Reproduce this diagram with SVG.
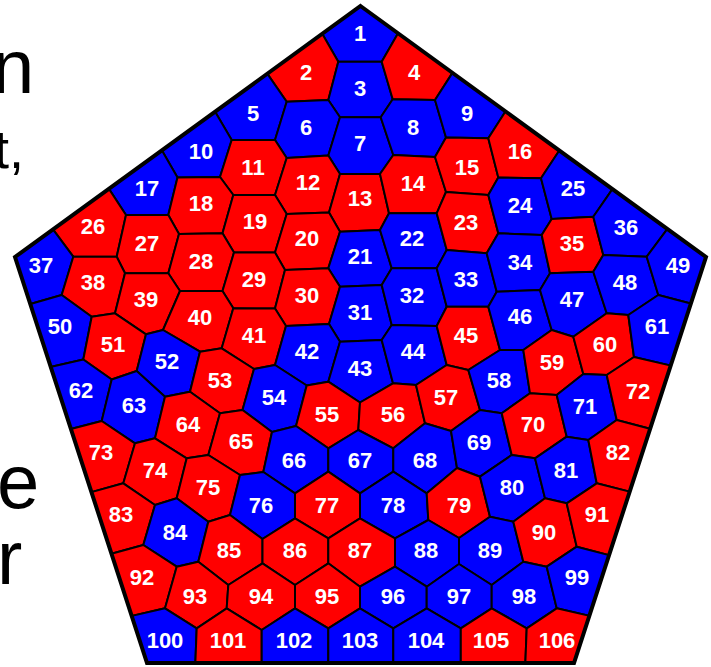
<svg xmlns="http://www.w3.org/2000/svg" width="711" height="667" viewBox="0 0 711 667">
<defs>
<style>
.r{fill:#ff0000}
.b{fill:#0000ff}
polygon.cell{stroke:#000;stroke-width:2;stroke-linejoin:round}
text.l{font-family:"Liberation Sans",Arial,Helvetica,sans-serif;font-weight:bold;font-size:22px;fill:#fff;text-anchor:middle}
text.big{font-family:"Liberation Sans",Arial,Helvetica,sans-serif;font-size:76px;fill:#000}
</style>
<clipPath id="pent"><polygon points="360.5,6 706,257 574,663 147,663 15,257"/></clipPath>
</defs>
<rect width="711" height="667" fill="#fff"/>
<g id="side-text">
<text class="big" x="-8" y="93">n</text>
<text class="big" x="-6" y="168" style="font-size:54px">t,</text>
<text class="big" x="-3" y="508">e</text>
<text class="big" x="-3" y="584">r</text>
</g>
<polygon points="360.5,6 706,257 574,663 147,663 15,257" fill="#000"/>
<g id="cells" clip-path="url(#pent)">
<g id="c1"><polygon class="cell b" points="319.2,28.4 360.5,-6 400.8,28.4 381.7,61.7 338.3,61.7"/><text class="l" x="360" y="41">1</text></g>
<g id="c2"><polygon class="cell r" points="319.2,28.4 338.3,61.7 328.3,100 286.7,101.7 264.8,70.1"/><text class="l" x="306" y="80">2</text></g>
<g id="c3"><polygon class="cell b" points="338.3,61.7 381.7,61.7 392.7,99.3 380.7,117.3 340,117.3 328.3,100"/><text class="l" x="360" y="96">3</text></g>
<g id="c4"><polygon class="cell r" points="400.8,28.4 455.5,68.1 435,100 392.7,99.3 381.7,61.7"/><text class="l" x="414" y="80">4</text></g>
<g id="c5"><polygon class="cell b" points="264.8,70.1 286.7,101.7 275,140 231.7,140 213.2,108.4"/><text class="l" x="253" y="121">5</text></g>
<g id="c6"><polygon class="cell b" points="286.7,101.7 328.3,100 340,117.3 328.3,155.5 286.7,158 275,140"/><text class="l" x="306" y="135">6</text></g>
<g id="c7"><polygon class="cell b" points="340,117.3 380.7,117.3 393.3,155 380,174 340,174 328.3,155.5"/><text class="l" x="360" y="151">7</text></g>
<g id="c8"><polygon class="cell b" points="392.7,99.3 435,100 446,137.5 435,157 393.3,155 380.7,117.3"/><text class="l" x="413" y="135">8</text></g>
<g id="c9"><polygon class="cell b" points="455.5,68.1 508.5,106.8 488.3,138.3 446,137.5 435,100"/><text class="l" x="467" y="121">9</text></g>
<g id="c10"><polygon class="cell b" points="213.2,108.4 231.7,140 220,177 177.5,177.5 159.8,146.8"/><text class="l" x="201" y="159">10</text></g>
<g id="c11"><polygon class="cell r" points="231.7,140 275,140 286.7,158 275,195 233.3,195 220,177"/><text class="l" x="253" y="175">11</text></g>
<g id="c12"><polygon class="cell r" points="286.7,158 328.3,155.5 340,174 329,212.5 286.7,214 275,195"/><text class="l" x="308" y="190">12</text></g>
<g id="c13"><polygon class="cell r" points="340,174 380,174 389,213.3 380,230 340,231.7 329,212.5"/><text class="l" x="360" y="206">13</text></g>
<g id="c14"><polygon class="cell r" points="393.3,155 435,157 446,192 436.7,213.3 389,213.3 380,174"/><text class="l" x="413" y="191">14</text></g>
<g id="c15"><polygon class="cell r" points="446,137.5 488.3,138.3 498.3,177.5 488.3,195 446,192 435,157"/><text class="l" x="467" y="175">15</text></g>
<g id="c16"><polygon class="cell r" points="508.5,106.8 561.8,146.8 541,178.3 498.3,177.5 488.3,138.3"/><text class="l" x="520" y="159">16</text></g>
<g id="c17"><polygon class="cell b" points="159.8,146.8 177.5,177.5 168.3,215 126,215 106.5,185.1"/><text class="l" x="147" y="196">17</text></g>
<g id="c18"><polygon class="cell r" points="177.5,177.5 220,177 233.3,195 222.5,233.3 179,234 168.3,215"/><text class="l" x="201" y="211">18</text></g>
<g id="c19"><polygon class="cell r" points="233.3,195 275,195 286.7,214 275,252.5 234,252.5 222.5,233.3"/><text class="l" x="255" y="229">19</text></g>
<g id="c20"><polygon class="cell r" points="286.7,214 329,212.5 340,231.7 328.3,268.3 285,270 275,252.5"/><text class="l" x="307" y="246">20</text></g>
<g id="c21"><polygon class="cell b" points="340,231.7 380,230 391.7,268.3 381.7,285 340,286.7 328.3,268.3"/><text class="l" x="360" y="264">21</text></g>
<g id="c22"><polygon class="cell b" points="389,213.3 436.7,213.3 446.7,250 436.7,268.3 391.7,268.3 380,230"/><text class="l" x="412" y="246">22</text></g>
<g id="c23"><polygon class="cell r" points="446,192 488.3,195 498.3,233.3 486.7,253.3 446.7,250 436.7,213.3"/><text class="l" x="466" y="230">23</text></g>
<g id="c24"><polygon class="cell b" points="498.3,177.5 541,178.3 551.7,219 541.7,235 498.3,233.3 488.3,195"/><text class="l" x="520" y="213">24</text></g>
<g id="c25"><polygon class="cell b" points="561.8,146.8 615.2,185.1 593.3,216.7 551.7,219 541,178.3"/><text class="l" x="573" y="196">25</text></g>
<g id="c26"><polygon class="cell r" points="106.5,185.1 126,215 116.7,256.7 73.3,256.7 49.8,225.1"/><text class="l" x="93" y="234">26</text></g>
<g id="c27"><polygon class="cell r" points="126,215 168.3,215 179,234 168.3,273.3 125,273.3 116.7,256.7"/><text class="l" x="147" y="251">27</text></g>
<g id="c28"><polygon class="cell r" points="179,234 222.5,233.3 234,252.5 222.5,291 180,291 168.3,273.3"/><text class="l" x="201" y="269">28</text></g>
<g id="c29"><polygon class="cell r" points="234,252.5 275,252.5 285,270 275,308.5 233.3,308.3 222.5,291"/><text class="l" x="254" y="287">29</text></g>
<g id="c30"><polygon class="cell r" points="285,270 328.3,268.3 340,286.7 329,324 286,326 275,308.5"/><text class="l" x="307" y="303">30</text></g>
<g id="c31"><polygon class="cell b" points="340,286.7 381.7,285 391.7,325 381.7,340 340,341.7 329,324"/><text class="l" x="360" y="320">31</text></g>
<g id="c32"><polygon class="cell b" points="391.7,268.3 436.7,268.3 446.7,306.7 436.7,326 391.7,325 381.7,285"/><text class="l" x="412" y="303">32</text></g>
<g id="c33"><polygon class="cell b" points="446.7,250 486.7,253.3 496.7,291.7 488.3,306.7 446.7,306.7 436.7,268.3"/><text class="l" x="466" y="287">33</text></g>
<g id="c34"><polygon class="cell b" points="498.3,233.3 541.7,235 550,273.3 540,290 496.7,291.7 486.7,253.3"/><text class="l" x="520" y="270">34</text></g>
<g id="c35"><polygon class="cell r" points="551.7,219 593.3,216.7 603.3,255 593.3,271.7 550,273.3 541.7,235"/><text class="l" x="572" y="251">35</text></g>
<g id="c36"><polygon class="cell b" points="615.2,185.1 670.2,225.1 646.7,256.7 603.3,255 593.3,216.7"/><text class="l" x="626" y="235">36</text></g>
<g id="c37"><polygon class="cell b" points="49.8,225.1 73.3,256.7 61.7,295 26,305.2 0,254"/><text class="l" x="41" y="273">37</text></g>
<g id="c38"><polygon class="cell r" points="73.3,256.7 116.7,256.7 125,273.3 115,313.3 91.7,316.7 61.7,295"/><text class="l" x="93" y="290">38</text></g>
<g id="c39"><polygon class="cell r" points="125,273.3 168.3,273.3 180,291 163,330 146,334.3 115,313.3"/><text class="l" x="146" y="307">39</text></g>
<g id="c40"><polygon class="cell r" points="180,291 222.5,291 233.3,308.3 221.7,348.3 200,351.7 163,330"/><text class="l" x="200" y="325">40</text></g>
<g id="c41"><polygon class="cell r" points="233.3,308.3 275,308.5 286,326 275,365 254,369 221.7,348.3"/><text class="l" x="254" y="343">41</text></g>
<g id="c42"><polygon class="cell b" points="286,326 329,324 340,341.7 328.3,381.7 306.7,385.5 275,365"/><text class="l" x="307" y="359">42</text></g>
<g id="c43"><polygon class="cell b" points="340,341.7 381.7,340 393,383.3 360,402.5 328.3,381.7"/><text class="l" x="360" y="376">43</text></g>
<g id="c44"><polygon class="cell b" points="391.7,325 436.7,326 446.7,365 416,385 393,383.3 381.7,340"/><text class="l" x="413" y="359">44</text></g>
<g id="c45"><polygon class="cell r" points="446.7,306.7 488.3,306.7 500,350 468.3,370 446.7,365 436.7,326"/><text class="l" x="466" y="343">45</text></g>
<g id="c46"><polygon class="cell b" points="496.7,291.7 540,290 551.7,330 523.3,350 500,350 488.3,306.7"/><text class="l" x="520" y="324">46</text></g>
<g id="c47"><polygon class="cell b" points="550,273.3 593.3,271.7 606.7,313.3 573.3,336.7 551.7,330 540,290"/><text class="l" x="572" y="307">47</text></g>
<g id="c48"><polygon class="cell b" points="603.3,255 646.7,256.7 658.3,295 628.3,315 606.7,313.3 593.3,271.7"/><text class="l" x="625" y="290">48</text></g>
<g id="c49"><polygon class="cell b" points="670.2,225.1 721,254 697.4,305.2 658.3,295 646.7,256.7"/><text class="l" x="678" y="273">49</text></g>
<g id="c50"><polygon class="cell b" points="26,305.2 61.7,295 91.7,316.7 83.3,359.5 46,367.9"/><text class="l" x="60" y="334">50</text></g>
<g id="c51"><polygon class="cell r" points="91.7,316.7 115,313.3 146,334.3 136.7,371 111.7,379.5 83.3,359.5"/><text class="l" x="113" y="352">51</text></g>
<g id="c52"><polygon class="cell b" points="146,334.3 163,330 200,351.7 190,391.7 165,396.7 136.7,371"/><text class="l" x="167" y="369">52</text></g>
<g id="c53"><polygon class="cell r" points="200,351.7 221.7,348.3 254,369 242.5,410 220,413.3 190,391.7"/><text class="l" x="220" y="388">53</text></g>
<g id="c54"><polygon class="cell b" points="254,369 275,365 306.7,385.5 296,426 272,432 242.5,410"/><text class="l" x="274" y="405">54</text></g>
<g id="c55"><polygon class="cell r" points="306.7,385.5 328.3,381.7 360,402.5 358.3,430 328.3,448.3 296,426"/><text class="l" x="327" y="422">55</text></g>
<g id="c56"><polygon class="cell r" points="360,402.5 393,383.3 416,385 425,423.3 393.3,448.3 358.3,430"/><text class="l" x="393" y="422">56</text></g>
<g id="c57"><polygon class="cell r" points="416,385 446.7,365 468.3,370 480,410 451,431 425,423.3"/><text class="l" x="446" y="405">57</text></g>
<g id="c58"><polygon class="cell b" points="500,350 523.3,350 530,393.3 501.7,413.3 480,410 468.3,370"/><text class="l" x="499" y="388">58</text></g>
<g id="c59"><polygon class="cell r" points="523.3,350 551.7,330 573.3,336.7 583.3,374 556.7,395 530,393.3"/><text class="l" x="552" y="370">59</text></g>
<g id="c60"><polygon class="cell r" points="573.3,336.7 606.7,313.3 628.3,315 634,357 606.7,375 583.3,374"/><text class="l" x="605" y="352">60</text></g>
<g id="c61"><polygon class="cell b" points="628.3,315 658.3,295 697.4,305.2 674.2,366.4 634,357"/><text class="l" x="657" y="334">61</text></g>
<g id="c62"><polygon class="cell b" points="46,367.9 83.3,359.5 111.7,379.5 101.7,421 65.1,430.5"/><text class="l" x="81" y="398">62</text></g>
<g id="c63"><polygon class="cell b" points="111.7,379.5 136.7,371 165,396.7 155,438.3 135,443.3 101.7,421"/><text class="l" x="134" y="413">63</text></g>
<g id="c64"><polygon class="cell r" points="165,396.7 190,391.7 220,413.3 208.3,455 186.7,458.3 155,438.3"/><text class="l" x="188" y="432">64</text></g>
<g id="c65"><polygon class="cell r" points="220,413.3 242.5,410 272,432 263.3,472 240,475 208.3,455"/><text class="l" x="241" y="449">65</text></g>
<g id="c66"><polygon class="cell b" points="272,432 296,426 328.3,448.3 328.3,471.7 295,493.3 263.3,472"/><text class="l" x="294" y="468">66</text></g>
<g id="c67"><polygon class="cell b" points="328.3,448.3 358.3,430 393.3,448.3 393.3,471.7 360,493.3 328.3,471.7"/><text class="l" x="360" y="468">67</text></g>
<g id="c68"><polygon class="cell b" points="393.3,448.3 425,423.3 451,431 457,468 426.7,493.3 393.3,471.7"/><text class="l" x="425" y="468">68</text></g>
<g id="c69"><polygon class="cell b" points="451,431 480,410 501.7,413.3 511.7,455 480,476.7 457,468"/><text class="l" x="479" y="450">69</text></g>
<g id="c70"><polygon class="cell r" points="501.7,413.3 530,393.3 556.7,395 566.7,436.7 535,458.3 511.7,455"/><text class="l" x="533" y="432">70</text></g>
<g id="c71"><polygon class="cell b" points="556.7,395 583.3,374 606.7,375 616.7,420 588.3,440 566.7,436.7"/><text class="l" x="585" y="414">71</text></g>
<g id="c72"><polygon class="cell r" points="606.7,375 634,357 674.2,366.4 655.7,430.2 616.7,420"/><text class="l" x="638" y="399">72</text></g>
<g id="c73"><polygon class="cell r" points="65.1,430.5 101.7,421 135,443.3 123.3,483.3 86,493.6"/><text class="l" x="101" y="460">73</text></g>
<g id="c74"><polygon class="cell r" points="135,443.3 155,438.3 186.7,458.3 176.7,498.3 155,505 123.3,483.3"/><text class="l" x="155" y="478">74</text></g>
<g id="c75"><polygon class="cell r" points="186.7,458.3 208.3,455 240,475 230,515 208.3,521.7 176.7,498.3"/><text class="l" x="208" y="495">75</text></g>
<g id="c76"><polygon class="cell b" points="240,475 263.3,472 295,493.3 295,518.3 262.5,539 230,515"/><text class="l" x="261" y="513">76</text></g>
<g id="c77"><polygon class="cell r" points="295,493.3 328.3,471.7 360,493.3 360,518.3 328.3,538.3 295,518.3"/><text class="l" x="327" y="513">77</text></g>
<g id="c78"><polygon class="cell b" points="360,493.3 393.3,471.7 426.7,493.3 428.3,520 395,538.3 360,518.3"/><text class="l" x="393" y="513">78</text></g>
<g id="c79"><polygon class="cell r" points="426.7,493.3 457,468 480,476.7 490,516.7 459,538 428.3,520"/><text class="l" x="459" y="513">79</text></g>
<g id="c80"><polygon class="cell b" points="480,476.7 511.7,455 535,458.3 545,498.3 513.3,521.7 490,516.7"/><text class="l" x="512" y="495">80</text></g>
<g id="c81"><polygon class="cell b" points="535,458.3 566.7,436.7 588.3,440 596.7,483.3 566.7,503.3 545,498.3"/><text class="l" x="566" y="478">81</text></g>
<g id="c82"><polygon class="cell r" points="588.3,440 616.7,420 655.7,430.2 637.4,493.6 596.7,483.3"/><text class="l" x="618" y="460">82</text></g>
<g id="c83"><polygon class="cell r" points="86,493.6 123.3,483.3 155,505 143.3,545 106,555.2"/><text class="l" x="121" y="522">83</text></g>
<g id="c84"><polygon class="cell b" points="155,505 176.7,498.3 208.3,521.7 198.3,561.7 176.7,566.7 143.3,545"/><text class="l" x="175" y="540">84</text></g>
<g id="c85"><polygon class="cell r" points="208.3,521.7 230,515 262.5,539 262.5,563.3 228.3,585 198.3,561.7"/><text class="l" x="229" y="558">85</text></g>
<g id="c86"><polygon class="cell r" points="262.5,539 295,518.3 328.3,538.3 328.3,563.3 295,585 262.5,563.3"/><text class="l" x="295" y="558">86</text></g>
<g id="c87"><polygon class="cell r" points="328.3,538.3 360,518.3 395,538.3 395,566.7 360,586.7 328.3,563.3"/><text class="l" x="360" y="558">87</text></g>
<g id="c88"><polygon class="cell b" points="395,538.3 428.3,520 459,538 459,564 426.7,586.7 395,566.7"/><text class="l" x="426" y="558">88</text></g>
<g id="c89"><polygon class="cell b" points="459,538 490,516.7 513.3,521.7 523.3,561.7 491.7,585 459,564"/><text class="l" x="490" y="558">89</text></g>
<g id="c90"><polygon class="cell r" points="513.3,521.7 545,498.3 566.7,503.3 576.7,546.7 546.7,566.7 523.3,561.7"/><text class="l" x="544" y="540">90</text></g>
<g id="c91"><polygon class="cell r" points="566.7,503.3 596.7,483.3 637.4,493.6 615.7,556.9 576.7,546.7"/><text class="l" x="597" y="522">91</text></g>
<g id="c92"><polygon class="cell r" points="106,555.2 143.3,545 176.7,566.7 165,608.3 127.6,616.9"/><text class="l" x="142" y="585">92</text></g>
<g id="c93"><polygon class="cell r" points="176.7,566.7 198.3,561.7 228.3,585 226.7,608.3 196.7,628.3 165,608.3"/><text class="l" x="195" y="604">93</text></g>
<g id="c94"><polygon class="cell r" points="228.3,585 262.5,563.3 295,585 295,608.3 261.7,630 226.7,608.3"/><text class="l" x="261" y="604">94</text></g>
<g id="c95"><polygon class="cell r" points="295,585 328.3,563.3 360,586.7 360,608.3 328.3,628.3 295,608.3"/><text class="l" x="327" y="604">95</text></g>
<g id="c96"><polygon class="cell b" points="360,586.7 395,566.7 426.7,586.7 426.7,608.3 393.3,628.3 360,608.3"/><text class="l" x="393" y="604">96</text></g>
<g id="c97"><polygon class="cell b" points="426.7,586.7 459,564 491.7,585 491.7,608.3 460.8,628.3 426.7,608.3"/><text class="l" x="459" y="604">97</text></g>
<g id="c98"><polygon class="cell b" points="491.7,585 523.3,561.7 546.7,566.7 556.7,608.3 526.7,628.3 491.7,608.3"/><text class="l" x="524" y="604">98</text></g>
<g id="c99"><polygon class="cell b" points="546.7,566.7 576.7,546.7 615.7,556.9 594,616.9 556.7,608.3"/><text class="l" x="577" y="585">99</text></g>
<g id="c100"><polygon class="cell b" points="127.6,616.9 165,608.3 196.7,628.3 195,672 135,672"/><text class="l" x="165" y="648">100</text></g>
<g id="c101"><polygon class="cell r" points="196.7,628.3 226.7,608.3 261.7,630 261.7,672 195,672"/><text class="l" x="228" y="648">101</text></g>
<g id="c102"><polygon class="cell b" points="261.7,630 295,608.3 328.3,628.3 328.3,672 261.7,672"/><text class="l" x="294" y="648">102</text></g>
<g id="c103"><polygon class="cell b" points="328.3,628.3 360,608.3 393.3,628.3 393.3,672 328.3,672"/><text class="l" x="360" y="648">103</text></g>
<g id="c104"><polygon class="cell b" points="393.3,628.3 426.7,608.3 460.8,628.3 460.8,672 393.3,672"/><text class="l" x="426" y="648">104</text></g>
<g id="c105"><polygon class="cell r" points="460.8,628.3 491.7,608.3 526.7,628.3 525,672 460.8,672"/><text class="l" x="491" y="648">105</text></g>
<g id="c106"><polygon class="cell r" points="526.7,628.3 556.7,608.3 594,616.9 590,672 525,672"/><text class="l" x="557" y="648">106</text></g>
</g>
<polygon id="outline" points="360.5,6 706,257 574,663 147,663 15,257" fill="none" stroke="#000" stroke-width="4" stroke-linejoin="miter"/>
</svg>
